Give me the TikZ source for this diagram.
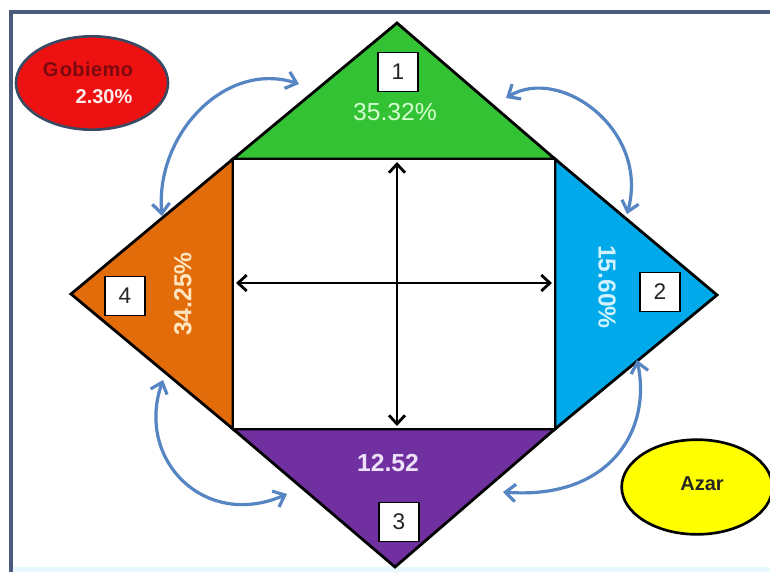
\documentclass[tikz,border=0pt]{standalone}
\usepackage{fontspec}
\setmainfont{Liberation Sans}
\usetikzlibrary{arrows.meta,shapes.geometric}
\definecolor{framec}{HTML}{4A5C7C}
\definecolor{cgreen}{HTML}{33C233}
\definecolor{cblue}{HTML}{00AAEA}
\definecolor{cpurple}{HTML}{7030A0}
\definecolor{corange}{HTML}{E36C0A}
\definecolor{cred}{HTML}{EE1111}
\definecolor{cyellow}{HTML}{FFFF00}
\definecolor{arcblue}{HTML}{5585C2}
\definecolor{txtgreen}{HTML}{D4FFD0}
\definecolor{txtblue}{HTML}{D0F2FF}
\definecolor{txtorange}{HTML}{FFE6C0}
\definecolor{txtpurple}{HTML}{EEE2FA}
\definecolor{txtred}{HTML}{7A0A10}
\definecolor{bottomc}{HTML}{E6F7FD}
\begin{document}
\begin{tikzpicture}[x=0.75pt,y=-0.75pt,
  tri/.style={draw=black,line width=2.1pt,line join=miter},
  numbox/.style={draw=black,fill=white,line width=1.1pt,minimum width=30pt,minimum height=29pt,inner sep=0pt,font=\fontsize{17}{19}\selectfont,text=black!85},
  pct/.style={font=\bfseries\fontsize{18.5}{20}\selectfont,inner sep=0pt},
  cross/.style={draw=black,line width=2.1pt,{Straight Barb[length=6.5pt,width=12pt,line width=2.1pt]}-{Straight Barb[length=6.5pt,width=12pt,line width=2.1pt]}},
  arc/.style={draw=arcblue,line width=2.4pt,{Straight Barb[length=7.5pt,width=13pt,line width=2.4pt]}-{Straight Barb[length=7.5pt,width=13pt,line width=2.4pt]}},
  oval/.style={ellipse,line width=2pt,inner sep=0pt}
]
\useasboundingbox (0,0) rectangle (770,572);
\fill[white] (0,0) rectangle (770,572);
\fill[bottomc] (12,567) rectangle (770,572);
% frame
\coordinate (fbl) at (11,572);
\coordinate (ftl) at (11,12);
\coordinate (ftr) at (770,12);
\draw[framec,line width=2.4pt] (fbl) -- (ftl) -- (ftr);
% vertices
\coordinate (T) at (397,23);
\coordinate (R) at (717,295);
\coordinate (B) at (395,567);
\coordinate (L) at (71,294);
\coordinate (rtl) at (233,159);
\coordinate (rtr) at (555,159);
\coordinate (rbr) at (555,429);
\coordinate (rbl) at (233,429);
% triangles
\filldraw[tri,fill=cgreen] (rtl) -- (T) -- (rtr) -- cycle;
\filldraw[tri,fill=cblue] (rtr) -- (R) -- (rbr) -- cycle;
\filldraw[tri,fill=cpurple] (rbl) -- (B) -- (rbr) -- cycle;
\filldraw[tri,fill=corange] (rtl) -- (L) -- (rbl) -- cycle;
\filldraw[tri,fill=white] (rtl) rectangle (rbr);
% cross arrows
\coordinate (vt) at (397,162);
\coordinate (vb) at (397,426);
\coordinate (hl) at (236,283);
\coordinate (hr) at (552,283);
\draw[cross] (vt) -- (vb);
\draw[cross] (hl) -- (hr);
% number boxes
\node[numbox] (n1) at (398,72) {1};
\node[numbox] (n2) at (660,292) {2};
\node[numbox] (n3) at (399,522) {3};
\node[numbox] (n4) at (125,296) {4};
% percentages
\node[pct,text=txtgreen,font=\fontsize{18.5}{20}\selectfont] (p1) at (395,112) {35.32\%};
\node[pct,text=txtblue,rotate=-90] (p2) at (607,287) {15.60\%};
\node[pct,text=txtpurple] (p3) at (388,463) {12.52};
\node[pct,text=txtorange,rotate=90] (p4) at (183,294) {34.25\%};
% ovals
\node[oval,draw=framec!80!black,fill=cred,minimum width=114pt,minimum height=70pt] (gob) at (92,83) {};
\node[font=\bfseries\fontsize{15}{17}\selectfont,text=txtred,inner sep=0pt] (gobt) at (88,69) {G\kern1pt o\kern0.3pt b\kern0.3pt i\kern0.3pt e\kern0.3pt m\kern0.3pt o};
\node[font=\bfseries\fontsize{15}{17}\selectfont,text=white!92!red,inner sep=0pt] (gobp) at (104,97) {2.30\%};
\node[oval,draw=black,fill=cyellow,minimum width=113pt,minimum height=71pt] (azar) at (697,487) {};
\node[font=\bfseries\fontsize{15}{17}\selectfont,text=black!85,inner sep=0pt] (azart) at (702,484) {Azar};
% curved double arrows
\coordinate (a1s) at (162,216);
\coordinate (a1e) at (299,84);
\coordinate (a2s) at (506,98);
\coordinate (a2e) at (627,214);
\coordinate (a3s) at (637,360);
\coordinate (a3e) at (503,492);
\coordinate (a4s) at (163,380);
\coordinate (a4e) at (287,494);
\draw[arc] (a1s) .. controls (155,135) and (225,60) .. (a1e);
\draw[arc] (a2s) .. controls (560,65) and (650,130) .. (a2e);
\draw[arc] (a3s) .. controls (652,430) and (610,500) .. (a3e);
\draw[arc] (a4s) .. controls (135,460) and (205,530) .. (a4e);
\end{tikzpicture}
\end{document}
